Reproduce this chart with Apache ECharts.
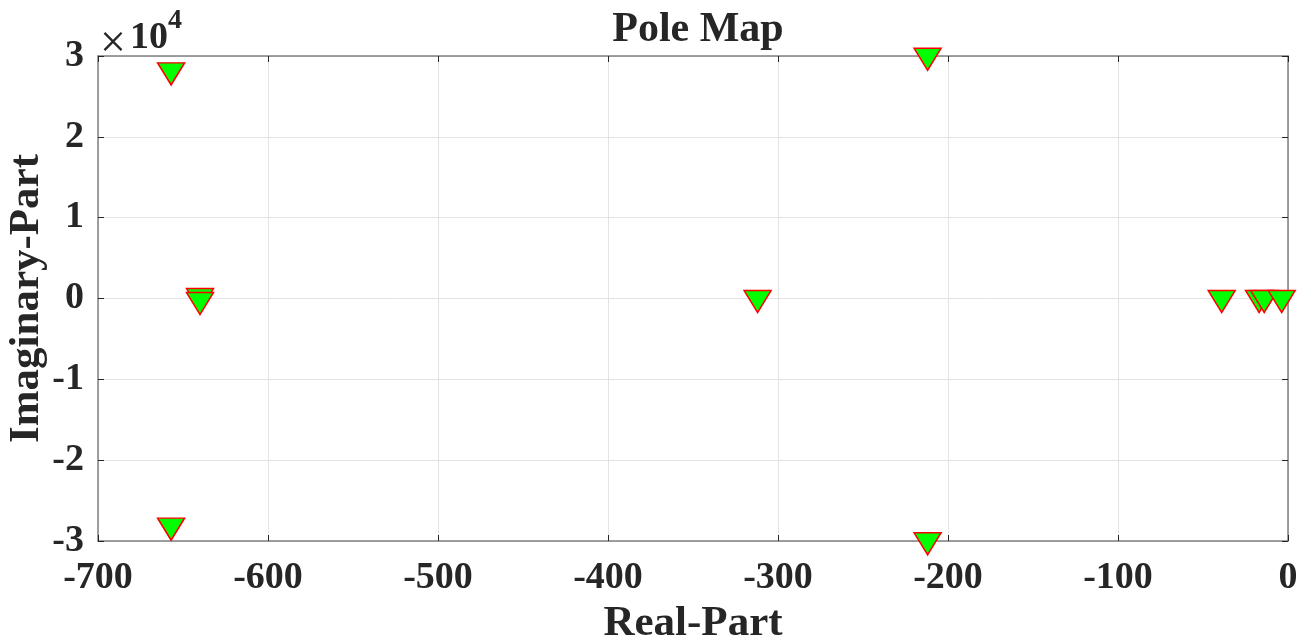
<!DOCTYPE html>
<html>
<head>
<meta charset="utf-8">
<script src="https://cdn.jsdelivr.net/npm/echarts@6/dist/echarts.min.js"></script>
<style>
    html, body{margin:0; padding:0; background:#fff;}
    #ChartMain{width:1312px; height:644px;}
</style>
</head>
<body>
<div id="ChartMain"></div>
<script type="text/javascript">
    // poles (imag part in plain units, axis shows x1e4)
    var realParts = [-657, -657, -640, -640, -312, -212, -212, -39, -17, -14, -3.7];
    var imagParts = [28160, -28160, 250, -250, 0, 29970, -29970, 0, 0, 0, 0];
    var xTicks = [-700, -600, -500, -400, -300, -200, -100, 0];
    var yTicks = [-3, -2, -1, 0, 1, 2, 3];

    var serif = "'Liberation Serif', 'Times New Roman', serif";
    var ink = '#262626';
    var frame = '#808080';

    var points = realParts.map(function (re, i) { return [re, imagParts[i]]; });

    var myChart = echarts.init(document.getElementById('ChartMain'), null, {renderer: 'canvas'});
    var option = {
        animation: false,
        title: {
            text: 'Pole Map',
            left: 693,
            top: 4,
            textAlign: 'center',
            textStyle: {fontFamily: serif, fontSize: 42, fontWeight: 'bold', color: ink}
        },
        grid: {left: 98, right: 24, top: 56, bottom: 103, containLabel: false, outerBoundsMode: 'none'},
        xAxis: [{
            type: 'value',
            min: xTicks[0],
            max: xTicks[xTicks.length - 1],
            interval: 100,
            name: 'Real-Part',
            nameLocation: 'middle',
            nameGap: 60,
            nameTextStyle: {fontFamily: serif, fontSize: 43, fontWeight: 'bold', color: ink},
            axisLine: {show: true, onZero: false, lineStyle: {color: frame, width: 1.5}},
            axisTick: {show: true, inside: true, length: 6, lineStyle: {color: ink}},
            axisLabel: {fontFamily: serif, fontSize: 38, fontWeight: 'bold', color: ink, margin: 18},
            splitLine: {show: true, lineStyle: {color: '#e3e3e3', width: 1}}
        }, {
            type: 'value',
            position: 'top',
            min: xTicks[0],
            max: xTicks[xTicks.length - 1],
            interval: 100,
            axisLine: {show: true, onZero: false, lineStyle: {color: frame, width: 1.5}},
            axisTick: {show: true, inside: true, length: 6, lineStyle: {color: ink}},
            axisLabel: {show: false},
            splitLine: {show: false}
        }],
        yAxis: [{
            type: 'value',
            min: yTicks[0] * 1e4,
            max: yTicks[yTicks.length - 1] * 1e4,
            interval: 1e4,
            name: 'Imaginary-Part',
            nameLocation: 'middle',
            nameGap: 50,
            nameMoveOverlap: false,
            nameTextStyle: {fontFamily: serif, fontSize: 43, fontWeight: 'bold', color: ink},
            axisLine: {show: true, onZero: false, lineStyle: {color: frame, width: 1.5}},
            axisTick: {show: true, inside: true, length: 6, lineStyle: {color: ink}},
            axisLabel: {
                fontFamily: serif, fontSize: 38, fontWeight: 'bold', color: ink, margin: 14,
                formatter: function (v) { return String(Math.round(v / 1e4)); }
            },
            splitLine: {show: true, lineStyle: {color: '#e3e3e3', width: 1}}
        }, {
            type: 'value',
            position: 'right',
            min: yTicks[0] * 1e4,
            max: yTicks[yTicks.length - 1] * 1e4,
            interval: 1e4,
            axisLine: {show: true, onZero: false, lineStyle: {color: frame, width: 1.5}},
            axisTick: {show: true, inside: true, length: 6, lineStyle: {color: ink}},
            axisLabel: {show: false},
            splitLine: {show: false}
        }],
        graphic: [
            {type: 'text', left: 100, top: 22, style: {text: '\u00d7', font: '46px ' + serif, fill: ink}},
            {type: 'text', left: 130, top: 19, style: {text: '10', font: 'bold 38px ' + serif, fill: ink}},
            {type: 'text', left: 168, top: 7, style: {text: '4', font: 'bold 28px ' + serif, fill: ink}}
        ],
        series: [{
            type: 'scatter',
            data: points,
            clip: false,
            symbol: 'triangle',
            symbolRotate: 180,
            symbolSize: [27, 22],
            symbolOffset: [0, 3],
            itemStyle: {color: '#00ff00', borderColor: '#ff0000', borderWidth: 1.5, opacity: 1}
        }]
    };
    myChart.setOption(option);
</script>
</body>
</html>
